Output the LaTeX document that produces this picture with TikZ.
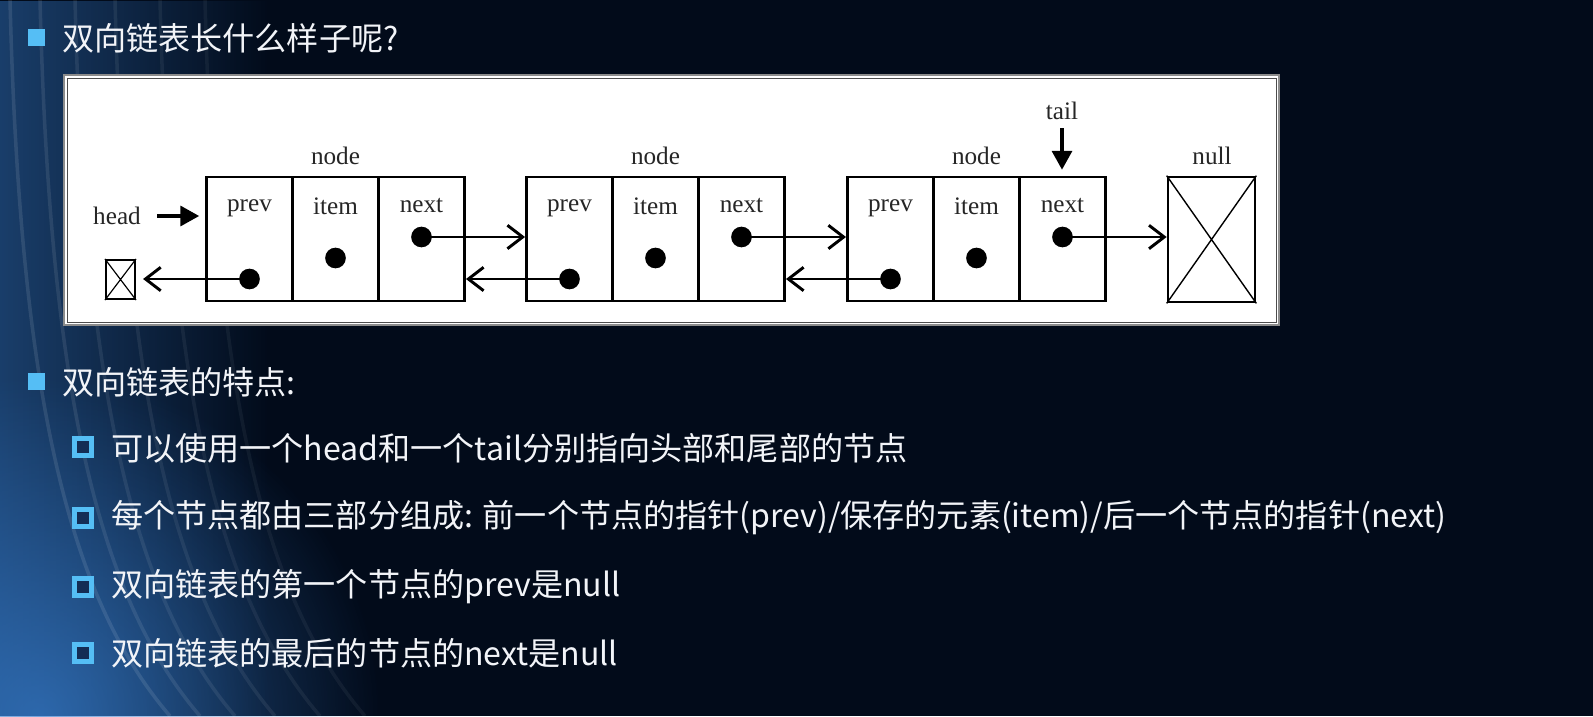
\documentclass[tikz,border=0pt]{standalone}
\usepackage{fontspec}
\newfontfamily\cjk{Noto Sans CJK SC}
\newfontfamily\tms{Liberation Serif}
\usetikzlibrary{arrows.meta,fadings}
\definecolor{bg}{RGB}{2,11,26}
\definecolor{glow}{RGB}{55,125,205}
\definecolor{bul}{RGB}{85,190,245}
\definecolor{bulin}{RGB}{20,45,85}
\definecolor{txt}{RGB}{242,244,248}
\tikzfading[name=fadeR, left color=transparent!0, right color=transparent!100]
\tikzfading[name=fadeG, inner color=transparent!0, outer color=transparent!100]
\tikzset{
  cell/.style={draw=black, line width=2.5pt, minimum width=2.58cm, minimum height=3.72cm, inner sep=0pt},
  dotnode/.style={circle, fill=black, minimum size=0.62cm, inner sep=0pt},
  lbl/.style={font=\tms\fontsize{21.5}{24}\selectfont, text=black!85, inner sep=0pt},
  ptr/.style={line width=2.5pt, -{Straight Barb[length=13pt,width=20pt,line width=2.5pt]}},
  bigptr/.style={line width=2.8pt, -{Triangle[length=16pt,width=17pt]}},
  cjktext/.style={font=\cjk\fontsize{27.4}{32}\selectfont, text=txt, inner sep=0pt, anchor=west},
  fullbul/.style={fill=bul},
  hollowbul/.style={draw=bul, line width=3.8pt, fill=bulin},
}
\begin{document}
\begin{tikzpicture}[x=0.03cm,y=-0.03cm]
\useasboundingbox (0,0) rectangle (1593,716);
% background
\fill[bg] (0,0) rectangle (1593,716);
\fill[glow, opacity=0.45, path fading=fadeR] (0,0) rectangle (270,716);
\fill[glow, opacity=0.7, path fading=fadeG] (40,716) circle (340);
\foreach \a/\o in {10/0.10,40/0.09,75/0.08,115/0.07,160/0.06,205/0.05}{
  \draw[white, opacity=\o, line width=3pt] (\a,0) .. controls (\a+10,400) and (\a+60,600) .. (\a+160,716);
}
% headings
\fill[fullbul] (28,29) rectangle (45,46);
\node[cjktext] (title) at (62,38) {双向链表长什么样子呢?};
\fill[fullbul] (28,373) rectangle (45,390);
\node[cjktext] (feat) at (62,382) {双向链表的特点:};
\foreach \y in {447,518,587,653}{
  \draw[hollowbul] (74.5,\y-8.5) rectangle (91.5,\y+8.5);
}
\node[cjktext] (l1) at (111,448) {可以使用一个head和一个tail分别指向头部和尾部的节点};
\node[cjktext] (l2) at (111,518) {每个节点都由三部分组成: 前一个节点的指针(prev)/保存的元素(item)/后一个节点的指针(next)};
\node[cjktext] (l3) at (111,587) {双向链表的第一个节点的prev是null};
\node[cjktext] (l4) at (111,653) {双向链表的最后的节点的next是null};
% diagram frame
\draw[fill=white, draw=black!45, line width=1.6pt] (64,75) rectangle (1279,325);
\draw[draw=black!70, line width=0.7pt] (67,78) rectangle (1276,322);
% cells
\foreach \n/\x in {1/249.5,2/569.5,3/890.5}{
  \node[cell] (n\n p) at (\x,239) {};
  \node[cell] (n\n i) at (\x+86,239) {};
  \node[cell] (n\n n) at (\x+172,239) {};
  \node[lbl] (t\n p) at (\x,208) {prev};
  \node[lbl] (t\n i) at (\x+86,206) {item};
  \node[lbl] (t\n n) at (\x+172,206) {next};
  \node[lbl] (t\n) at (\x+86,156) {node};
  \node[dotnode] (d\n p) at (\x,279) {};
  \node[dotnode] (d\n i) at (\x+86,258) {};
  \node[dotnode] (d\n n) at (\x+172,237) {};
}
% null boxes
\node[draw=black, line width=2.3pt, minimum width=2.61cm, minimum height=3.75cm, inner sep=0pt] (nullb) at (1211.5,239.5) {};
\draw[line width=1.2pt] (nullb.north west) -- (nullb.south east) (nullb.north east) -- (nullb.south west);
\node[lbl] (tnull) at (1212,156) {null};
\node[draw=black, line width=1.8pt, minimum width=0.87cm, minimum height=1.17cm, inner sep=0pt] (nulls) at (120.5,279.5) {};
\draw[line width=1pt] (nulls.north west) -- (nulls.south east) (nulls.north east) -- (nulls.south west);
% head / tail
\node[lbl] (head) at (117,216) {head};
\coordinate (hs) at (157,216);
\draw[bigptr, shorten >=5pt] (hs) -- (hs -| n1p.west);
\node[lbl] (tail) at (1062,111) {tail};
\coordinate (ts) at (1062,128);
\draw[bigptr, shorten >=5pt] (ts) -- (ts |- n3n.north);
% pointers
\draw[ptr] (d1n.center) -- (d1n -| n2p.west);
\draw[ptr] (d2n.center) -- (d2n -| n3p.west);
\draw[ptr] (d3n.center) -- (d3n -| nullb.west);
\draw[ptr] (d2p.center) -- (d2p -| n1n.east);
\draw[ptr] (d3p.center) -- (d3p -| n2n.east);
\draw[ptr, shorten >=6pt] (d1p.center) -- (d1p -| nulls.east);
\end{tikzpicture}
\end{document}
